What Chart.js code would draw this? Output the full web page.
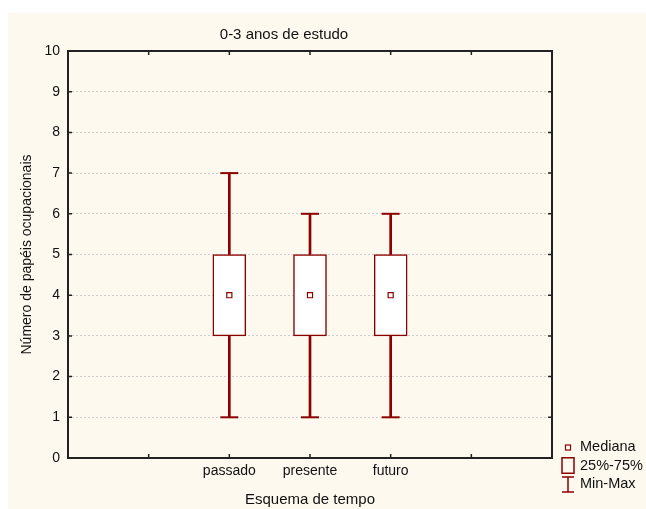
<!DOCTYPE html>
<html>
<head>
<meta charset="utf-8">
<script src="https://cdn.jsdelivr.net/npm/chart.js@4"></script>
<style>
  body { margin: 0; background: #fff; font-family: "Liberation Sans", Arial, sans-serif; }
  #wrap { position: absolute; left: 8px; top: 13px; width: 638px; height: 496px; background: #fdf9ef; }
  #legend { position: absolute; left: 553px; top: 424px; font-size: 14.5px; color: #111; }
  #legend div { height: 18.5px; line-height: 18.5px; white-space: nowrap; }
  #legend svg { vertical-align: middle; margin-right: 5px; }
</style>
</head>
<body>
<div id="wrap">
  <canvas id="chart"></canvas>
  <div id="legend">
    <div><svg width="14" height="17"><rect x="4.5" y="6" width="5" height="5" fill="#fff" stroke="#8b0000" stroke-width="1.2"/></svg>Mediana</div>
    <div><svg width="14" height="17"><rect x="1" y="0.75" width="12" height="15.5" fill="none" stroke="#8b0000" stroke-width="1.5"/></svg>25%-75%</div>
    <div><svg width="14" height="17"><path d="M1 1H13M7 1V16M1 16H13" fill="none" stroke="#8b0000" stroke-width="1.5"/></svg>Min-Max</div>
  </div>
</div>
<script>
var categories = ["passado", "presente", "futuro"];
var minVals = [1, 1, 1];
var q1Vals = [3, 3, 3];
var medianVals = [4, 4, 4];
var q3Vals = [5, 5, 5];
var maxVals = [7, 6, 6];
var yTicks = [0, 1, 2, 3, 4, 5, 6, 7, 8, 9, 10];

// two empty slots on each side, as in the original axis
var axisLabels = ["", ""].concat(categories, ["", ""]);

var red = "#8b0000";
var font = "Liberation Sans";

function pts(fn) {
  return categories.map(function (c, i) { return { x: c, y: fn(i) }; });
}

var frame = {
  id: "frame",
  afterDraw: function (chart) {
    var ctx = chart.ctx, a = chart.chartArea;
    var xs = chart.scales.x, ys = chart.scales.y;
    ctx.save();
    ctx.strokeStyle = "#222";
    ctx.lineWidth = 1.5;
    ctx.beginPath();
    yTicks.forEach(function (v) {
      var y = ys.getPixelForValue(v);
      ctx.moveTo(a.left, y); ctx.lineTo(a.left + 4, y);
      ctx.moveTo(a.right, y); ctx.lineTo(a.right - 4, y);
    });
    axisLabels.forEach(function (l, i) {
      var x = xs.getPixelForValue(i);
      ctx.moveTo(x, a.bottom); ctx.lineTo(x, a.bottom - 4);
      ctx.moveTo(x, a.top); ctx.lineTo(x, a.top + 4);
    });
    ctx.stroke();
    ctx.lineWidth = 2;
    ctx.strokeRect(a.left, a.top, a.right - a.left, a.bottom - a.top);
    ctx.restore();
  }
};

new Chart("chart", {
  type: "bar",
  data: {
    labels: axisLabels,
    datasets: [
      {
        type: "scatter",
        label: "Mediana",
        order: 0,
        data: pts(function (i) { return medianVals[i]; }),
        pointStyle: "rect",
        radius: 3.6,
        backgroundColor: "#fff",
        borderColor: red,
        borderWidth: 1.2
      },
      {
        type: "scatter",
        label: "Min-Max",
        order: 1,
        data: pts(function (i) { return minVals[i]; }).concat(pts(function (i) { return maxVals[i]; })),
        pointStyle: "line",
        radius: 9,
        borderColor: red,
        borderWidth: 2
      },
      {
        label: "25%-75%",
        order: 2,
        data: pts(function (i) { return [q1Vals[i], q3Vals[i]]; }),
        backgroundColor: "#fff",
        borderColor: red,
        borderWidth: 1.5,
        borderSkipped: false,
        barThickness: 33,
        grouped: false
      },
      {
        label: "low",
        order: 3,
        data: pts(function (i) { return [minVals[i], q1Vals[i]]; }),
        backgroundColor: red,
        barThickness: 2,
        grouped: false,
        borderSkipped: false
      },
      {
        label: "high",
        order: 3,
        data: pts(function (i) { return [q3Vals[i], maxVals[i]]; }),
        backgroundColor: red,
        barThickness: 2,
        grouped: false,
        borderSkipped: false
      }
    ]
  },
  options: {
    responsive: true,
    maintainAspectRatio: false,
    animation: false,
    layout: { padding: { left: 8, right: 94, top: 0, bottom: 0 } },
    plugins: {
      legend: { display: false },
      tooltip: { enabled: false },
      title: {
        display: true,
        text: "0-3 anos de estudo",
        color: "#111",
        font: { family: font, size: 15, weight: "normal" },
        padding: { top: 13, bottom: 7 }
      }
    },
    scales: {
      x: {
        type: "category",
        offset: false,
        afterFit: function (s) { s.height = 51; },
        grid: { display: false, drawTicks: false },
        border: { display: false },
        ticks: {
          color: "#111",
          padding: 5,
          maxRotation: 0,
          autoSkip: false,
          font: { family: font, size: 14 }
        },
        title: {
          display: true,
          text: "Esquema de tempo",
          color: "#111",
          font: { family: font, size: 15 },
          padding: { top: 0, bottom: 0 }
        }
      },
      y: {
        min: 0,
        max: 10,
        afterFit: function (s) { s.width = 52; },
        afterBuildTicks: function (s) { s.ticks = yTicks.map(function (v) { return { value: v }; }); },
        grid: { color: "#cccccc", drawTicks: false },
        border: { display: false, dash: [2, 2] },
        ticks: {
          color: "#111",
          padding: 8,
          font: { family: font, size: 14 }
        },
        title: {
          display: true,
          text: "Número de papéis ocupacionais",
          color: "#111",
          font: { family: font, size: 14 },
          padding: { top: 2.6, bottom: 0 }
        }
      }
    }
  },
  plugins: [frame]
});
</script>
</body>
</html>
